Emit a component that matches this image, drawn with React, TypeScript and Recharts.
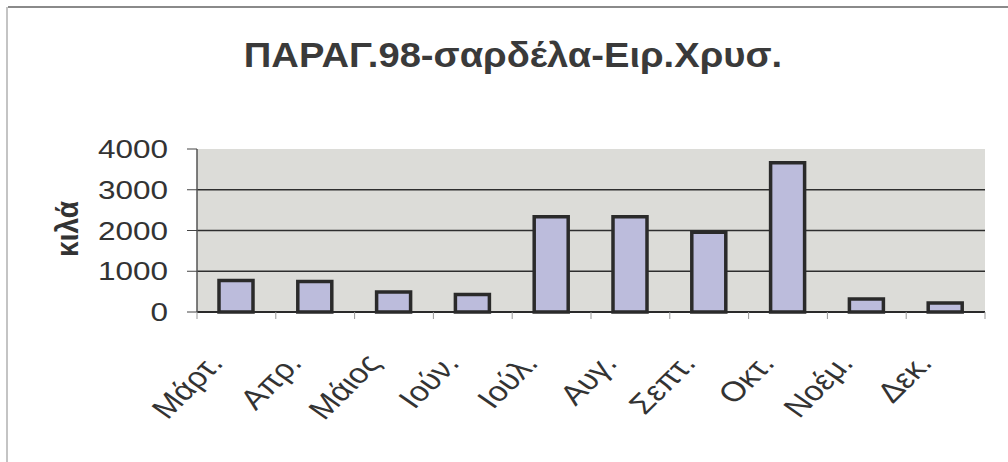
import React from "react";
import { BarChart, Bar, XAxis, YAxis, CartesianGrid } from "recharts";

const months = ["Μάρτ.", "Απρ.", "Μάιος", "Ιούν.", "Ιούλ.", "Αυγ.", "Σεπτ.", "Οκτ.", "Νοέμ.", "Δεκ."];
const kilos = [770, 750, 490, 430, 2340, 2340, 1960, 3660, 320, 220];
const yTicks = [0, 1000, 2000, 3000, 4000];
const title = "ΠΑΡΑΓ.98-σαρδέλα-Ειρ.Χρυσ.";
const yLabel = "κιλά";

const data = months.map((m, i) => ({ month: m, value: kilos[i] }));

const W = 1008;
const H = 462;
const M_TOP = 149;
const M_RIGHT = 23;
const Y_W = 197;
const X_H = 150;
const PLOT_W = W - M_RIGHT - Y_W;
const BW = PLOT_W / months.length;
const FONT = "'Liberation Sans', Arial, sans-serif";

const XTick = (props: any) => {
  const { x, y, payload, index } = props;
  const axisY = y - 6;
  return (
    <g>
      <line x1={x - BW / 2} y1={axisY} x2={x - BW / 2} y2={axisY + 7} stroke="#999" strokeWidth={1} />
      {index === months.length - 1 && (
        <line x1={x + BW / 2} y1={axisY} x2={x + BW / 2} y2={axisY + 7} stroke="#999" strokeWidth={1} />
      )}
      <g transform={`translate(${x - 12},${axisY + 52}) scale(1.2,1) rotate(-50)`}>
        <text x={0} y={0} textAnchor="end" fontSize={28} fill="#333" fontFamily={FONT}>
          {payload.value}
        </text>
      </g>
    </g>
  );
};

const YTick = (props: any) => {
  const { x, y, payload } = props;
  return (
    <g transform={`translate(${x},${y}) scale(1.26,1)`}>
      <text x={0} y={0} dy="0.36em" textAnchor="end" fontSize={25} fill="#333" fontFamily={FONT}>
        {payload.value}
      </text>
    </g>
  );
};

export default function App() {
  return (
    <div style={{ position: "absolute", left: 0, top: 0, width: W, height: H, background: "#fff", overflow: "hidden" }}>
      <div style={{ position: "absolute", left: 8, top: 6, width: 1000, height: 2, background: "#8a8a8a" }} />
      <div style={{ position: "absolute", left: 6, top: 7, width: 2, height: 455, background: "#c4c4c4" }} />
      <div
        style={{
          position: "absolute",
          left: 0,
          width: 1026,
          top: 35,
          textAlign: "center",
          fontFamily: FONT,
          fontWeight: "bold",
          fontSize: 35,
          color: "#3a3a3a",
          transform: "scaleX(1.09)",
          transformOrigin: "513px 0",
          lineHeight: "40px",
        }}
      >
        {title}
      </div>
      <div
        style={{
          position: "absolute",
          left: 68,
          top: 229,
          transform: "translate(-50%,-50%) rotate(-90deg) scaleY(1.15)",
          fontFamily: FONT,
          fontWeight: "bold",
          fontSize: 28,
          color: "#333",
          whiteSpace: "nowrap",
          lineHeight: "30px",
        }}
      >
        {yLabel}
      </div>
      <div style={{ position: "absolute", left: 0, top: 0 }}>
        <BarChart width={W} height={H} data={data} margin={{ top: M_TOP, right: M_RIGHT, bottom: 0, left: 0 }} barSize={34}>
          <CartesianGrid
            fill="#dcdcd8"
            vertical={false}
            horizontal={true}
            horizontalValues={yTicks.filter((t) => t > 0 && t < 4000)}
            stroke="#2e2e2e"
            strokeWidth={1.5}
            strokeDasharray=""
          />
          <XAxis
            dataKey="month"
            height={X_H}
            interval={0}
            tickSize={6}
            tickMargin={0}
            tickLine={false}
            axisLine={{ stroke: "#2a2a2a", strokeWidth: 2 }}
            tick={<XTick />}
          />
          <YAxis
            width={Y_W}
            domain={[0, 4000]}
            ticks={yTicks}
            tickSize={10}
            tickMargin={19}
            tickLine={{ stroke: "#444", strokeWidth: 1 }}
            axisLine={{ stroke: "#555", strokeWidth: 1.5 }}
            tick={<YTick />}
          />
          <Bar dataKey="value" fill="#bcbcdc" stroke="#2a2a2a" strokeWidth={3.5} isAnimationActive={false} />
        </BarChart>
      </div>
    </div>
  );
}
